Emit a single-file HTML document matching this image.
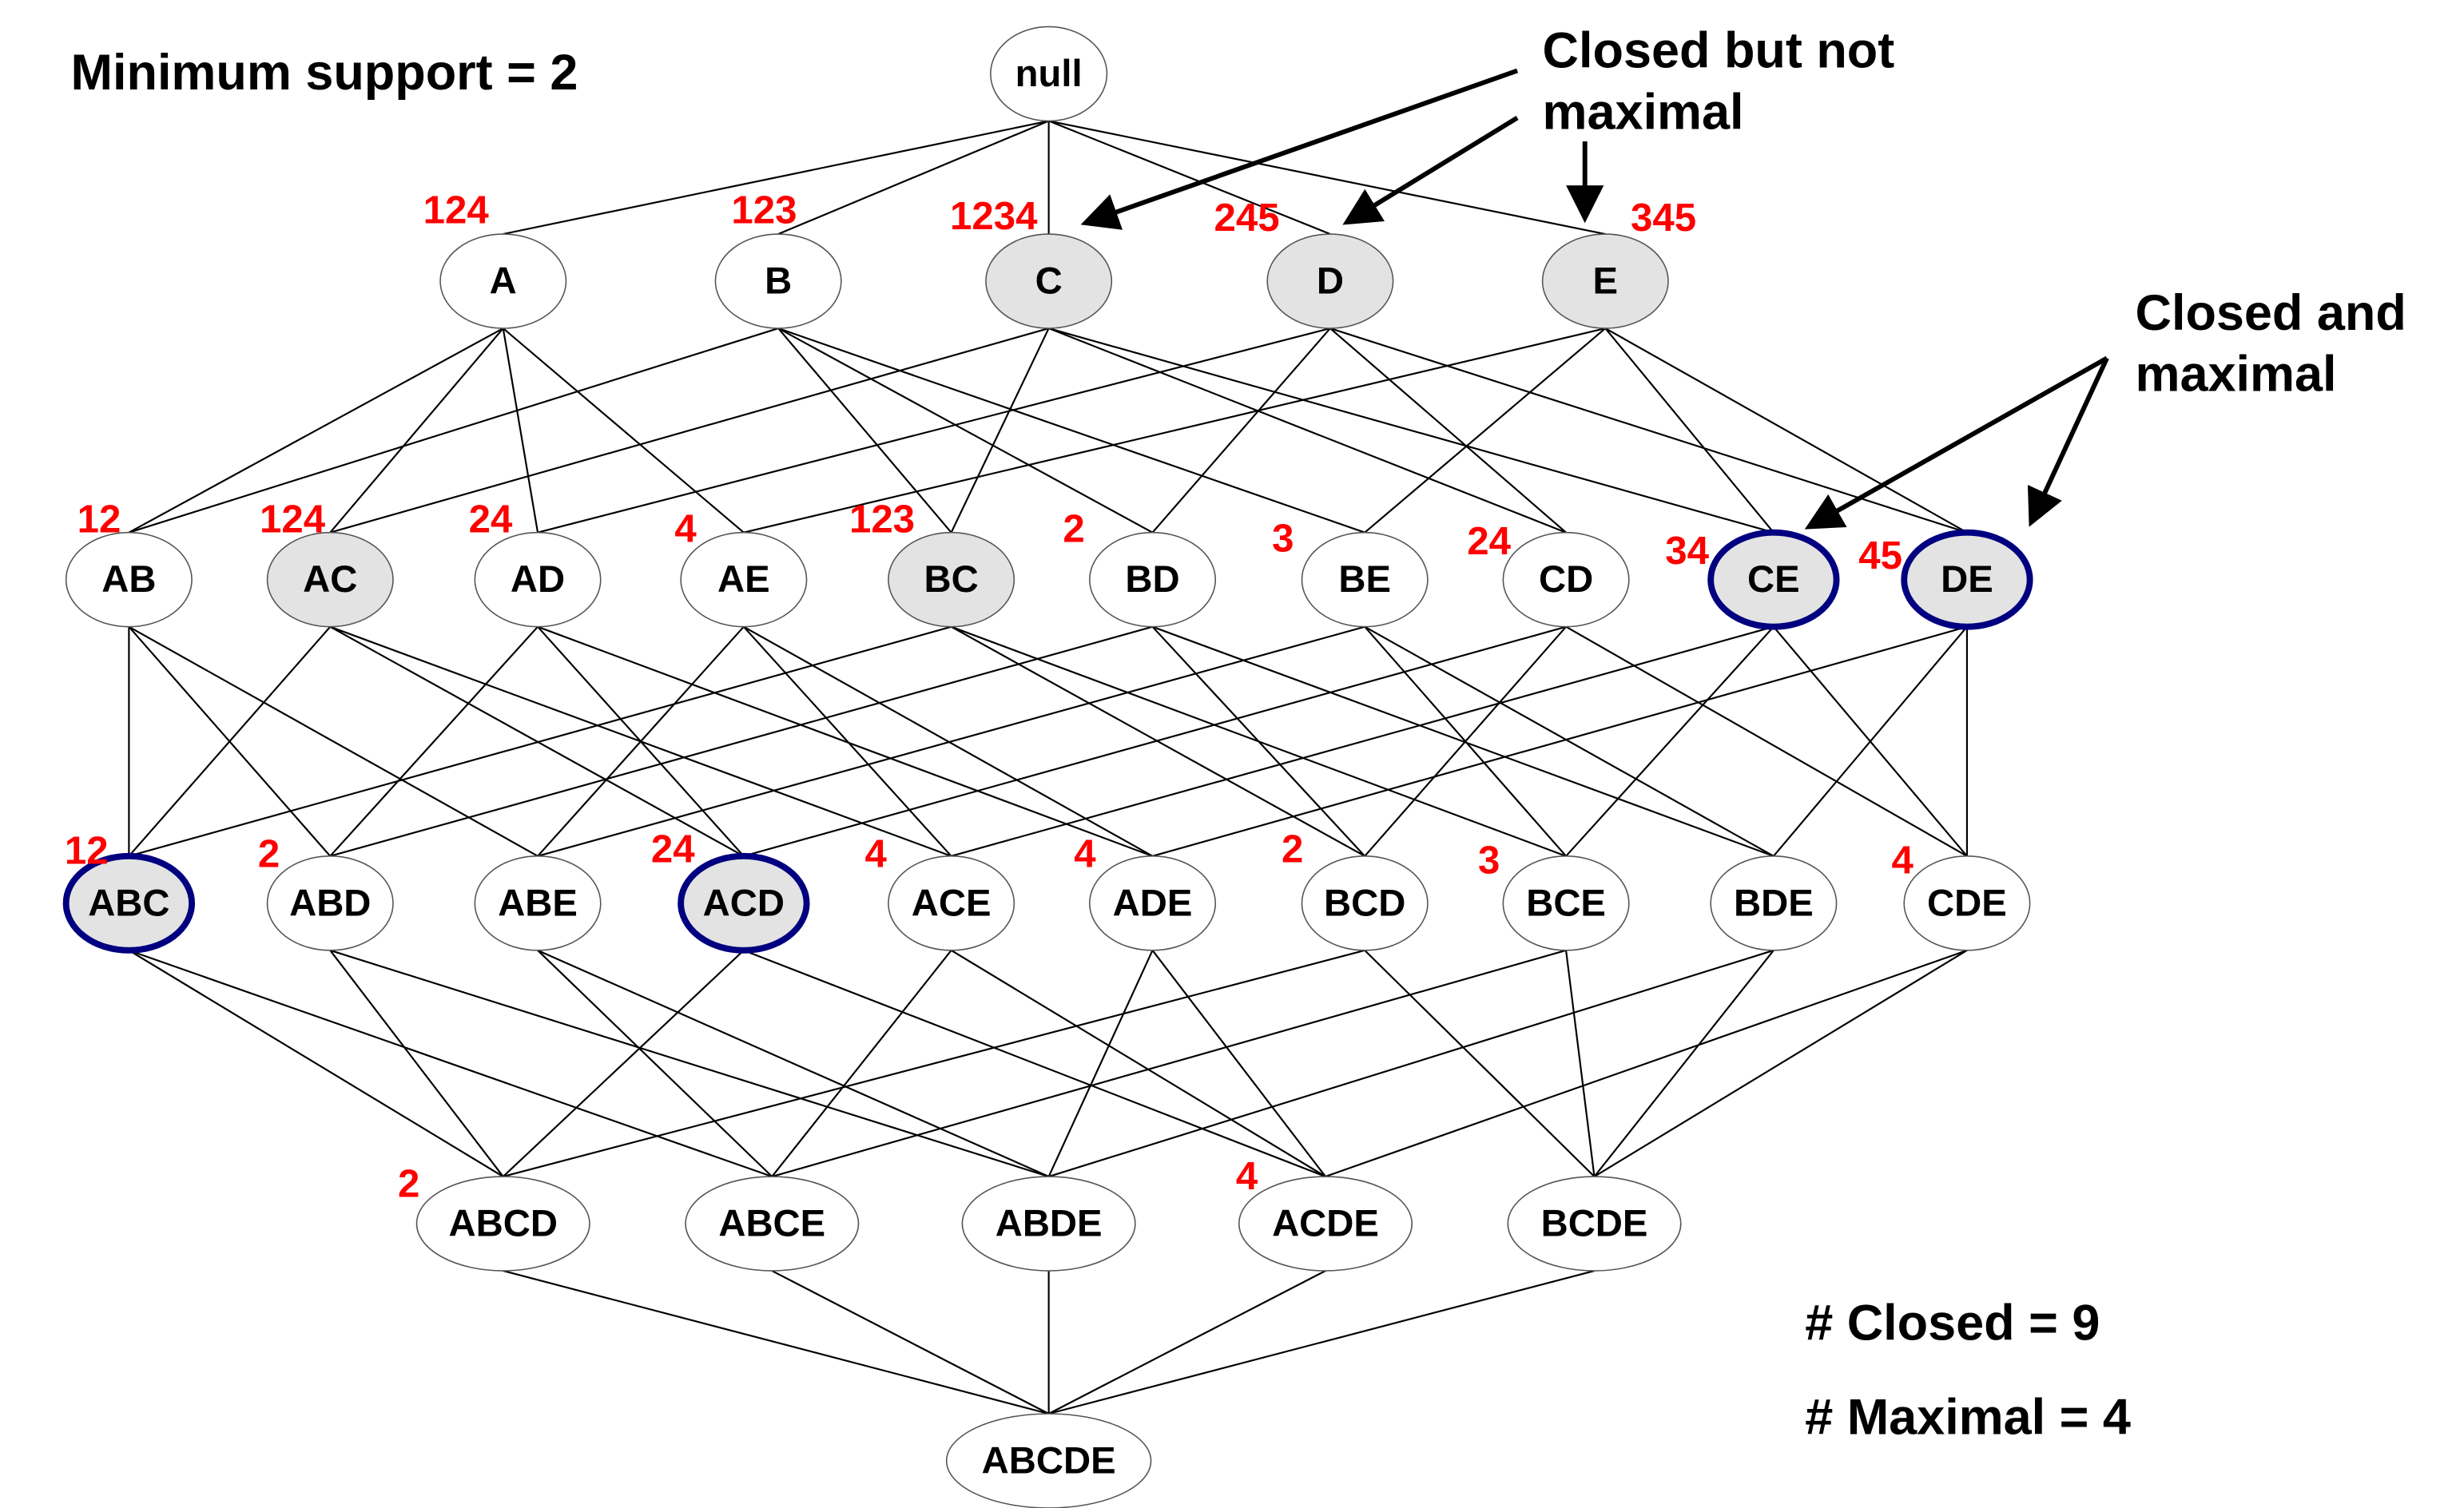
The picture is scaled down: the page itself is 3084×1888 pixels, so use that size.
<!DOCTYPE html>
<html><head><meta charset="utf-8"><style>
html,body{margin:0;padding:0;background:#fff;}
svg{display:block;}
text{font-family:"Liberation Sans",Arial,sans-serif;font-weight:bold;}
.n{font-size:24px;text-anchor:middle;dominant-baseline:central;fill:#000;}
.r{font-size:25px;fill:#f00;text-anchor:middle;}
.b{font-size:32px;fill:#000;}
</style></head><body>
<svg id="s" width="3084" height="1888" viewBox="0 0 1553 960" preserveAspectRatio="none" xmlns="http://www.w3.org/2000/svg">
<defs><marker id="ah" markerWidth="8" markerHeight="8" refX="6" refY="4" orient="auto" markerUnits="strokeWidth"><path d="M0,0 L8,4 L0,8 z" fill="#000"/></marker></defs>
<g transform="scale(0.991,1)">
<g id="edges" stroke="#000" stroke-width="1.1"></g>
<g id="nodes"></g>
<g id="labels">
<text class="n" x="667" y="47">null</text>
<text class="n" x="320" y="179">A</text><text class="n" x="495" y="179">B</text><text class="n" x="667" y="179">C</text><text class="n" x="846" y="179">D</text><text class="n" x="1021" y="179">E</text>
<text class="n" x="82" y="369">AB</text><text class="n" x="210" y="369">AC</text><text class="n" x="342" y="369">AD</text><text class="n" x="473" y="369">AE</text><text class="n" x="605" y="369">BC</text><text class="n" x="733" y="369">BD</text><text class="n" x="868" y="369">BE</text><text class="n" x="996" y="369">CD</text><text class="n" x="1128" y="369">CE</text><text class="n" x="1251" y="369">DE</text>
<text class="n" x="82" y="575">ABC</text><text class="n" x="210" y="575">ABD</text><text class="n" x="342" y="575">ABE</text><text class="n" x="473" y="575">ACD</text><text class="n" x="605" y="575">ACE</text><text class="n" x="733" y="575">ADE</text><text class="n" x="868" y="575">BCD</text><text class="n" x="996" y="575">BCE</text><text class="n" x="1128" y="575">BDE</text><text class="n" x="1251" y="575">CDE</text>
<text class="n" x="320" y="779">ABCD</text><text class="n" x="491" y="779">ABCE</text><text class="n" x="667" y="779">ABDE</text><text class="n" x="843" y="779">ACDE</text><text class="n" x="1014" y="779">BCDE</text>
<text class="n" x="667" y="930">ABCDE</text>
</g>
<g>
<text class="r" x="290" y="142">124</text><text class="r" x="486" y="142">123</text><text class="r" x="632" y="146">1234</text><text class="r" x="793" y="147">245</text><text class="r" x="1058" y="147">345</text>
<text class="r" x="63" y="339">12</text><text class="r" x="186" y="339">124</text><text class="r" x="312" y="339">24</text><text class="r" x="436" y="345">4</text><text class="r" x="561" y="339">123</text><text class="r" x="683" y="345">2</text><text class="r" x="816" y="351">3</text><text class="r" x="947" y="353">24</text><text class="r" x="1073" y="359">34</text><text class="r" x="1196" y="362">45</text>
<text class="r" x="55" y="550">12</text><text class="r" x="171" y="552">2</text><text class="r" x="428" y="549">24</text><text class="r" x="557" y="552">4</text><text class="r" x="690" y="552">4</text><text class="r" x="822" y="549">2</text><text class="r" x="947" y="556">3</text><text class="r" x="1210" y="556">4</text>
<text class="r" x="260" y="762">2</text><text class="r" x="793" y="757">4</text>
</g>
<text class="b" x="45" y="57">Minimum support = 2</text>
<text class="b" x="981" y="43">Closed but not</text>
<text class="b" x="981" y="82">maximal</text>
<text class="b" x="1358" y="210">Closed and</text>
<text class="b" x="1358" y="249">maximal</text>
<text class="b" x="1148" y="853"># Closed = 9</text>
<text class="b" x="1148" y="913"># Maximal = 4</text>
<g stroke="#000" stroke-width="3" marker-end="url(#ah)">
<line x1="965" y1="45" x2="693" y2="141"/>
<line x1="965" y1="75" x2="859" y2="140"/>
<line x1="1008" y1="90" x2="1008" y2="136"/>
<line x1="1340" y1="228" x2="1153" y2="334"/>
<line x1="1340" y1="228" x2="1293" y2="330"/>
</g>
</g>
<script>
var N={};
function add(n,x,y,rx){N[n]={x:x,y:y,rx:rx};}
add("null",667,47,37);
var L1=["A","B","C","D","E"],X1=[320,495,667,846,1021];
L1.forEach((n,i)=>add(n,X1[i],179,40));
var L2=["AB","AC","AD","AE","BC","BD","BE","CD","CE","DE"],X2=[82,210,342,473,605,733,868,996,1128,1251];
L2.forEach((n,i)=>add(n,X2[i],369,40));
var L3=["ABC","ABD","ABE","ACD","ACE","ADE","BCD","BCE","BDE","CDE"];
L3.forEach((n,i)=>add(n,X2[i],575,40));
var L4=["ABCD","ABCE","ABDE","ACDE","BCDE"],X4=[320,491,667,843,1014];
L4.forEach((n,i)=>add(n,X4[i],779,55));
add("ABCDE",667,930,65);
var levels=[["null"],L1,L2,L3,L4,["ABCDE"]];
function sub(a,b){if(a=="null")return true;for(var c of a)if(b.indexOf(c)<0)return false;return true;}
var ns="http://www.w3.org/2000/svg",E=document.getElementById("edges"),G=document.getElementById("nodes");
for(var l=0;l<5;l++)for(var p of levels[l])for(var c of levels[l+1])if(sub(p,c)){
 var ln=document.createElementNS(ns,"line");
 ln.setAttribute("x1",N[p].x);ln.setAttribute("y1",N[p].y+30);
 ln.setAttribute("x2",N[c].x);ln.setAttribute("y2",N[c].y-30);E.appendChild(ln);}
var gray=["C","D","E","AC","BC","CE","DE","ABC","ACD"],thick=["CE","DE","ABC","ACD"];
for(var k in N){var e=document.createElementNS(ns,"ellipse");
 e.setAttribute("cx",N[k].x);e.setAttribute("cy",N[k].y);e.setAttribute("rx",N[k].rx);e.setAttribute("ry",30);
 e.setAttribute("fill",gray.indexOf(k)>=0?"#e3e3e3":"#fff");
 if(thick.indexOf(k)>=0){e.setAttribute("stroke","#000080");e.setAttribute("stroke-width","4");}
 else{e.setAttribute("stroke","#555");e.setAttribute("stroke-width","0.8");}
 G.appendChild(e);}
</script>
</svg>
</body></html>
